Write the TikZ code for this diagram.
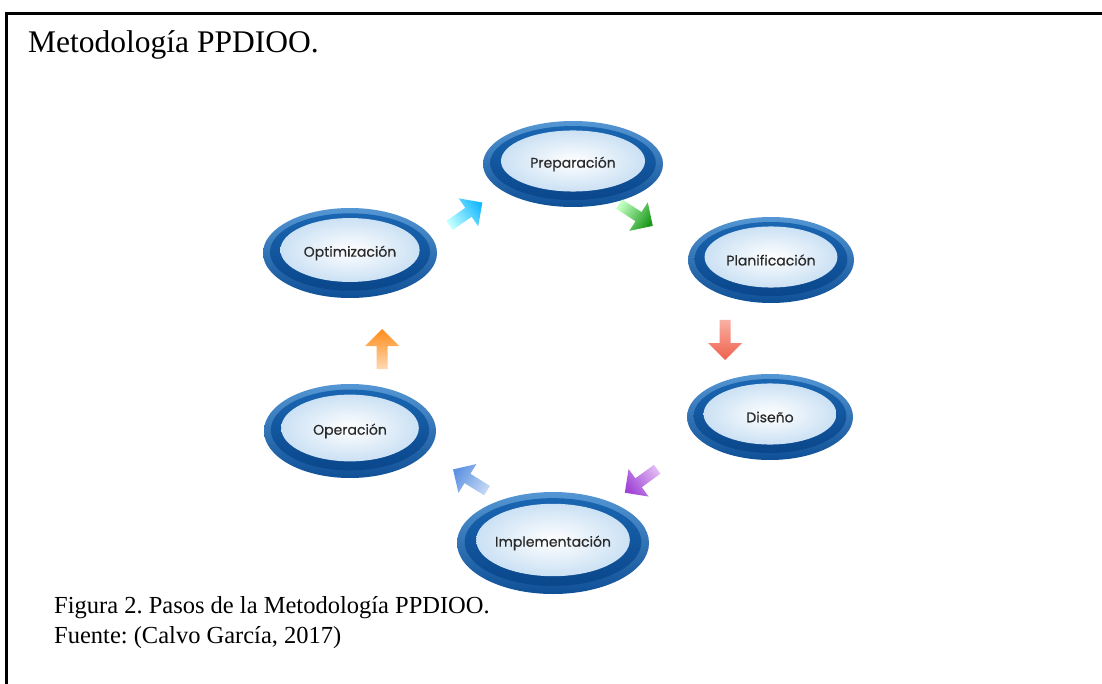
\documentclass[tikz,border=0pt]{standalone}
\usepackage{fontspec}
\setmainfont{Liberation Serif}
\newfontfamily\stagefont{Poppins}[FakeBold=0.5]
\definecolor{ringA}{HTML}{5597D4}
\definecolor{ringB}{HTML}{0E4F96}
\definecolor{ringC}{HTML}{1A66B2}
\definecolor{ringD}{HTML}{0A468A}
\definecolor{halo}{HTML}{CBE1F4}
\definecolor{stagetxt}{HTML}{2A2A2A}
\definecolor{purtip}{HTML}{A044D6}
\definecolor{purtail}{HTML}{E0B8F2}
\definecolor{redtip}{HTML}{F0604C}
\definecolor{redtail}{HTML}{F8B0A4}
\definecolor{bluetip}{HTML}{5F93E2}
\definecolor{bluetail}{HTML}{C2D6F4}
\tikzset{
  stagetext/.style={font=\stagefont\fontsize{14}{16}\selectfont, text=stagetxt, inner sep=0pt},
  serifbig/.style={font=\fontsize{31.5}{37}\selectfont, inner sep=0pt, anchor=base west},
  serifcap/.style={font=\fontsize{24.5}{30}\selectfont, inner sep=0pt, anchor=base west},
}
\newcommand\stage[6]{%
  \shade[top color=ringA, bottom color=ringB] (#2,#3) ellipse [x radius=#4pt, y radius=#5pt];
  \shade[top color=ringC, bottom color=ringD] (#2,#3-1) ellipse [x radius=0.92*#4pt, y radius=0.86*#5pt];
  \shade[inner color=white, outer color=halo] (#2,#3-3) ellipse [x radius=0.80*#4pt, y radius=0.71*#5pt];
  \node[stagetext] (#1) at (#2,#3) {#6};
}
\newcommand\blockarr[6]{% name x y angle tailcolor tipcolor
  \begin{scope}[shift={(#2,#3)}, rotate=#4, y=1pt]
    \shade[top color=#6, bottom color=#5, shading angle=#4-90]
      (-20,-5.5) -- (3,-5.5) -- (3,-17) -- (20,0) -- (3,17) -- (3,5.5) -- (-20,5.5) -- cycle;
    \coordinate (#1) at (0,0);
  \end{scope}
}
\begin{document}
\frenchspacing
\begin{tikzpicture}[x=1pt,y=-1pt]
\useasboundingbox (0,0) rectangle (1102,684);
\fill[white] (0,0) rectangle (1102,684);
\draw[line width=3pt] (6,690) -- (6,13.5) -- (1110,13.5);
\node[serifbig] (title) at (28,53) {Metodología PPDIOO.};
\stage{prep}{573}{164}{90}{43}{Preparación}
\stage{plan}{771}{260}{83}{43}{Planificación}
\stage{dis}{770}{417}{83}{43}{Diseño}
\stage{impl}{553}{543}{96}{51}{Implementación}
\stage{oper}{350}{431}{86}{47}{Operación}
\stage{opt}{350}{253}{87}{45}{Optimización}
\blockarr{a1}{466}{214}{35}{cyan!25!white}{cyan!70!blue!90!white}
\blockarr{a2}{636}{215}{-33}{green!25!white}{green!55!black!90!white}
\blockarr{a3}{725}{340}{-90}{redtail}{redtip}
\blockarr{a4}{641}{481}{216}{purtail}{purtip}
\blockarr{a5}{470}{480}{148}{bluetail}{bluetip}
\blockarr{a6}{382}{349}{90}{orange!30!white}{orange!90!white}
\node[serifcap] (cap1) at (54,613) {Figura 2. Pasos de la Metodología PPDIOO.};
\node[serifcap] (cap2) at (54,643) {Fuente: (Calvo García, 2017)};
\end{tikzpicture}
\end{document}
